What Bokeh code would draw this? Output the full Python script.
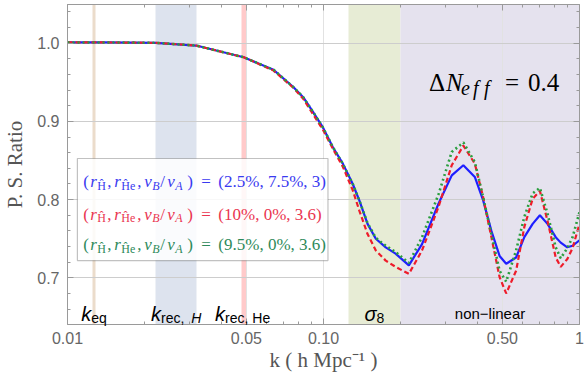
from bokeh.plotting import figure
from bokeh.models import ColumnDataSource, FixedTicker, LogAxis, LinearAxis, BoxAnnotation
from bokeh.core.properties import value, field
from bokeh.embed import file_html
from bokeh.resources import INLINE

# ---------------- data ----------------
k = [0.0100, 0.0140, 0.0221, 0.0318, 0.0488, 0.0638, 0.0762, 0.0833, 0.0911, 0.0996,
     0.1088, 0.1190, 0.1301, 0.1380, 0.1486, 0.1601, 0.1750, 0.1912, 0.2155, 0.2426,
     0.2815, 0.3170, 0.3518, 0.3900, 0.4204, 0.4526, 0.4873, 0.5172, 0.5654, 0.6088,
     0.6561, 0.7003, 0.7499, 0.8075, 0.8446, 0.8962, 0.9396, 1.0000]
ratio_blue = [1.001, 1.001, 1.0005, 0.997, 0.982, 0.966, 0.944, 0.931, 0.912, 0.892,
              0.867, 0.846, 0.820, 0.799, 0.769, 0.750, 0.739, 0.731, 0.716, 0.743,
              0.795, 0.831, 0.844, 0.829, 0.799, 0.760, 0.728, 0.718, 0.726, 0.752,
              0.769, 0.780, 0.769, 0.752, 0.745, 0.739, 0.741, 0.748]
ratio_red = [1.001, 1.001, 1.0005, 0.997, 0.982, 0.965, 0.943, 0.929, 0.909, 0.889,
             0.865, 0.842, 0.812, 0.786, 0.756, 0.735, 0.722, 0.714, 0.705, 0.735,
             0.791, 0.844, 0.869, 0.846, 0.803, 0.752, 0.701, 0.680, 0.709, 0.765,
             0.801, 0.811, 0.773, 0.726, 0.714, 0.724, 0.738, 0.769]
ratio_green = [1.001, 1.001, 1.0005, 0.997, 0.982, 0.966, 0.944, 0.931, 0.912, 0.892,
               0.867, 0.846, 0.820, 0.799, 0.770, 0.751, 0.741, 0.733, 0.719, 0.752,
               0.807, 0.861, 0.873, 0.848, 0.803, 0.756, 0.709, 0.695, 0.735, 0.778,
               0.808, 0.815, 0.782, 0.739, 0.725, 0.738, 0.752, 0.784]

legend_values = ["(2.5%, 7.5%, 3)", "(10%, 0%, 3.6)", "(9.5%, 0%, 3.6)"]
legend_colors = ["#3a3af0", "#ea3550", "#2e8a5a"]
curve_colors = ["#1f1fff", "#ee1c2a", "#2a9e3e"]

band_lo = [0.01249, 0.0221, 0.0480, 0.125, 0.200]
band_hi = [0.01290, 0.0320, 0.0500, 0.200, 1.000]
band_colors = ["#ebdccb", "#dde3ee", "#ffcaca", "#e7ecd5", "#e5e2ee"]

x_major = [0.01, 0.05, 0.1, 0.5, 1.0]
x_major_labels = ["0.01", "0.05", "0.10", "0.50", "1"]
x_minor = [0.02, 0.03, 0.04, 0.06, 0.07, 0.08, 0.09, 0.2, 0.3, 0.4, 0.6, 0.7, 0.8, 0.9]
y_major = [0.7, 0.8, 0.9, 1.0]
y_major_labels = ["0.7", "0.8", "0.9", "1.0"]
y_minor = [0.64, 0.66, 0.68, 0.72, 0.74, 0.76, 0.78, 0.82, 0.84, 0.86, 0.88,
           0.92, 0.94, 0.96, 0.98, 1.02, 1.04]

# ---------------- figure ----------------
p = figure(width=584, height=382, x_axis_type="log", x_range=(0.01, 1.0), y_range=(0.6403, 1.0495),
           output_backend="svg", toolbar_location=None,
           min_border_left=62, min_border_right=5, min_border_top=4, min_border_bottom=58)
p.background_fill_color = "white"
p.border_fill_color = "white"
p.outline_line_color = "#9a9a9a"

GRAY = "#9a9a9a"

def style_axis(ax, labels=True):
    ax.axis_line_color = GRAY
    ax.major_tick_line_color = GRAY
    ax.minor_tick_line_color = GRAY
    ax.major_tick_in = 6
    ax.major_tick_out = 0
    ax.minor_tick_in = 3
    ax.minor_tick_out = 0
    if labels:
        ax.major_label_text_font = "Liberation Sans"
        ax.major_label_text_font_size = "16px"
        ax.major_label_text_color = "#666666"
    else:
        ax.major_label_text_font_size = "0px"
        ax.major_label_text_color = None
        ax.major_label_standoff = 0

xt = FixedTicker(ticks=x_major, minor_ticks=x_minor)
yt = FixedTicker(ticks=y_major, minor_ticks=y_minor)

xa = p.xaxis[0]
xa.ticker = xt
xa.major_label_overrides = {v: s for v, s in zip(x_major, x_major_labels)}
style_axis(xa)
xa.major_label_standoff = 7
xa.axis_label = "k ( h Mpc\u207b\u00b9 )"
xa.axis_label_text_font = "Liberation Serif"
xa.axis_label_text_font_style = "normal"
xa.axis_label_text_font_size = "21px"
xa.axis_label_text_color = "#555555"
xa.axis_label_standoff = 1

ya = p.yaxis[0]
ya.ticker = yt
ya.major_label_overrides = {v: s for v, s in zip(y_major, y_major_labels)}
style_axis(ya)
ya.major_label_standoff = 8
ya.axis_label = "P. S. Ratio"
ya.axis_label_text_font = "Liberation Serif"
ya.axis_label_text_font_style = "normal"
ya.axis_label_text_font_size = "21px"
ya.axis_label_text_color = "#555555"
ya.axis_label_standoff = 7

top = LogAxis(ticker=xt)
style_axis(top, labels=False)
p.add_layout(top, "above")
right = LinearAxis(ticker=yt)
style_axis(right, labels=False)
p.add_layout(right, "right")

p.xgrid.ticker = FixedTicker(ticks=x_major)
p.ygrid.ticker = FixedTicker(ticks=y_major)
p.xgrid.grid_line_color = "#e2e2e2"
p.ygrid.grid_line_color = "#cdcdcd"

# ---------------- bands ----------------
bands = ColumnDataSource(dict(lo=band_lo, hi=band_hi, color=band_colors))
strips = p.vstrip(x0="lo", x1="hi", fill_color="color", line_color=None, source=bands)
strips.level = "image"

# ---------------- curves ----------------
src = ColumnDataSource(dict(k=k, b=ratio_blue, r=ratio_red, g=ratio_green))
p.line("k", "b", source=src, line_color=curve_colors[0], line_width=2.2)
p.line("k", "r", source=src, line_color=curve_colors[1], line_width=2.2, line_dash="5 3")
p.line("k", "g", source=src, line_color=curve_colors[2], line_width=2.6, line_dash="2 3")

# ---------------- composite text helper ----------------
SANS_W = {'k': .5, 'e': .556, 'q': .556, 'r': .333, 'c': .5, ',': .278, ' ': .278, 'H': .722,
          '\u03c3': .6, '8': .556, 'n': .556, 'o': .556, '\u2212': .584, 'l': .222, 'i': .222,
          'a': .556}

def draw_pieces(x, y, pieces, font, color):
    """pieces: list of (text, x_offset_px, y_offset_px, size_px, style)"""
    data = dict(x=[x] * len(pieces), y=[y] * len(pieces),
                text=[q[0] for q in pieces], xo=[q[1] for q in pieces],
                yo=[q[2] for q in pieces], fs=["%gpx" % q[3] for q in pieces],
                st=[q[4] for q in pieces])
    r = p.text("x", "y", text="text", source=ColumnDataSource(data),
               x_offset=field("xo"), y_offset=field("yo"),
               text_font_size=field("fs"), text_font_style=field("st"),
               text_font=value(font), text_color=color,
               text_align="left", text_baseline="alphabetic")
    r.level = "overlay"

def centered(segs, table):
    """segs: (text, size, style, dy) -> pieces centred on anchor"""
    offs, cur = [], 0.0
    for t, size, style, dy in segs:
        offs.append(cur)
        cur += sum(table.get(ch, 0.5) for ch in t) * size
    return [(s[0], o - cur / 2, s[3], s[1], s[2]) for s, o in zip(segs, offs)]

# band labels
band_label_y = 0.6543
gm = [(lo * hi) ** 0.5 for lo, hi in zip(band_lo, band_hi)]
band_label_segs = [
    [("k", 20, "italic", 0), ("eq", 14, "normal", 4)],
    [("k", 20, "italic", 0), ("rec,\u00a0", 14, "normal", 4), ("H", 14, "italic", 4)],
    [("k", 20, "italic", 0), ("rec,\u00a0He", 14, "normal", 4)],
    [("\u03c3", 20, "italic", 0), ("8", 14, "normal", 4)],
    [("non\u2212linear", 15, "normal", 0)],
]
for cx, segs in zip(gm, band_label_segs):
    draw_pieces(cx, band_label_y, centered(segs, SANS_W), "Liberation Sans", "black")

# Delta N_eff annotation
draw_pieces(0.2583, 0.9501,
            [("\u0394", 0, 0, 25, "normal"), ("N", 17, 0, 25, "italic"),
             ("e", 32, 6, 20, "italic"), ("f", 44, 6, 20, "italic"), ("f", 55, 6, 20, "italic"),
             ("=", 76, 0, 25, "normal"), ("0.4", 99, 0, 25, "normal")],
            "Liberation Serif", "black")

# legend box + lines
legend_box = BoxAnnotation(left=0.01093, right=0.1041, top=0.8526, bottom=0.7221,
                           fill_color="white", fill_alpha=0.85,
                           line_color="#333333", line_width=1.2)
p.add_layout(legend_box)
legend_y = [0.8231, 0.7816, 0.7426]
for val, col, ly in zip(legend_values, legend_colors, legend_y):
    pieces = [("(", 0, 0, 17, "normal"), ("r", 7, 0, 17, "italic"), ("\u0124", 14, 4, 12, "normal"),
              (",", 24, 0, 17, "normal"), ("r", 31, 0, 17, "italic"), ("\u0124e", 38, 4, 12, "normal"),
              (",", 54, 0, 17, "normal"), ("v", 61, 0, 17, "italic"), ("B", 69, 4, 12, "italic"),
              ("/", 77, 0, 17, "normal"), ("v", 84, 0, 17, "italic"), ("A", 92, 4, 12, "italic"),
              (")", 104, 0, 17, "normal"), ("=", 118, 0, 17, "normal"), (val, 135, 0, 17, "normal")]
    draw_pieces(0.01153, ly, pieces, "Liberation Serif", col)

open("out.html", "w").write(file_html(p, INLINE))
